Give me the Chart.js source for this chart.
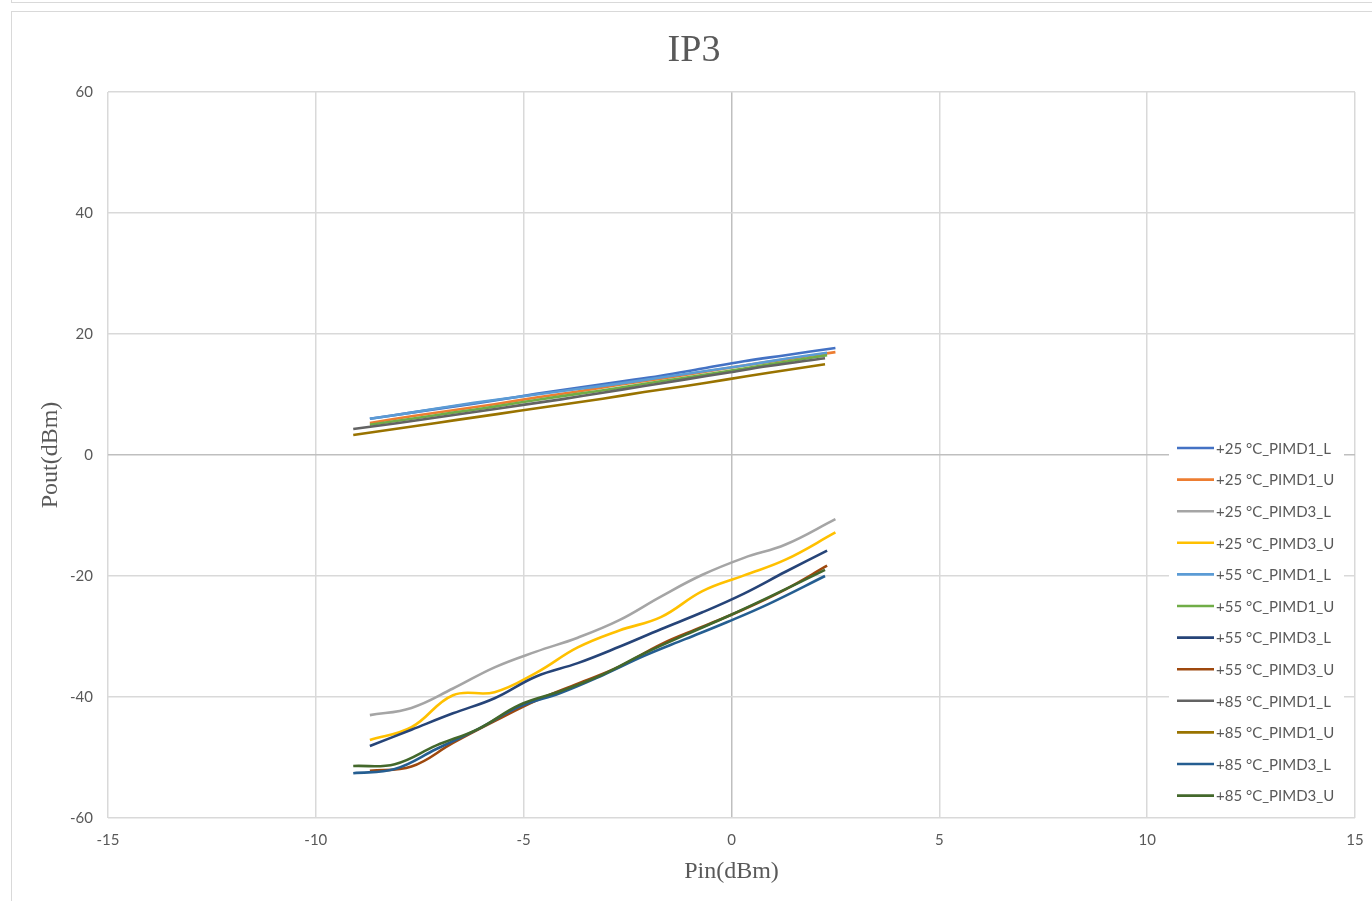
<!DOCTYPE html>
<html>
<head>
<meta charset="utf-8">
<title>IP3</title>
<script src="https://cdn.jsdelivr.net/npm/chart.js@4/dist/chart.umd.min.js"></script>
<style>
  html, body { margin: 0; padding: 0; background: #fff; overflow: hidden; }
  #topBox { position: absolute; left: 11px; top: -20px; width: 1400px; height: 21px; border: 1px solid #d9d9d9; }
  #frame { position: absolute; left: 11px; top: 11px; width: 1400px; height: 950px; border: 1px solid #d9d9d9; }
  #wrap { position: absolute; left: 0; top: 0; width: 1372px; height: 901px; }
</style>
</head>
<body>
<div id="topBox"></div>
<div id="frame"></div>
<div id="wrap"><canvas id="ip3Chart"></canvas></div>
<script>
// Pin (dBm) sweep points for each temperature
const pin25 = [-8.7, -7.7, -6.7, -5.7, -4.7, -3.7, -2.7, -1.7, -0.7, 0.3, 1.3, 2.5];
const pin55 = [-8.7, -7.7, -6.7, -5.7, -4.7, -3.7, -2.7, -1.7, -0.7, 0.3, 1.3, 2.3];
const pin85 = [-9.1, -8.1, -7.1, -6.1, -5.1, -4.1, -3.1, -2.1, -1.1, -0.1, 0.9, 2.25];

// Pout (dBm) readings
const t25_PIMD1_L = [6.0, 7.0, 8.0, 9.0, 10.1, 11.1, 12.1, 13.1, 14.3, 15.5, 16.5, 17.7];
const t25_PIMD1_U = [5.3, 6.4, 7.4, 8.4, 9.5, 10.5, 11.6, 12.6, 13.7, 14.8, 15.8, 17.0];
const t25_PIMD3_L = [-43.0, -41.8, -38.6, -35.1, -32.5, -30.2, -27.3, -23.4, -19.8, -17.0, -14.8, -10.6];
const t25_PIMD3_U = [-47.1, -45.0, -39.7, -39.2, -36.0, -31.8, -29.0, -26.8, -22.5, -19.9, -17.3, -12.8];
const t55_PIMD1_L = [6.0, 7.0, 8.1, 9.1, 10.0, 10.9, 11.8, 12.8, 13.8, 14.8, 15.9, 16.9];
const t55_PIMD1_U = [5.0, 6.0, 7.0, 8.0, 9.1, 10.1, 11.1, 12.2, 13.2, 14.3, 15.4, 16.5];
const t55_PIMD3_L = [-48.1, -45.4, -42.7, -40.2, -36.6, -34.4, -31.7, -28.8, -26.0, -22.9, -19.3, -15.8];
const t55_PIMD3_U = [-52.2, -51.5, -47.6, -44.0, -40.6, -37.8, -35.0, -31.3, -28.4, -25.5, -22.2, -18.3];
const t85_PIMD1_L = [4.3, 5.2, 6.2, 7.2, 8.2, 9.2, 10.3, 11.4, 12.5, 13.6, 14.7, 16.0];
const t85_PIMD1_U = [3.3, 4.3, 5.3, 6.3, 7.3, 8.3, 9.3, 10.4, 11.4, 12.5, 13.6, 15.0];
const t85_PIMD3_L = [-52.6, -51.9, -48.6, -45.3, -41.6, -39.3, -36.4, -33.2, -30.4, -27.6, -24.6, -20.0];
const t85_PIMD3_U = [-51.4, -51.1, -48.0, -45.3, -41.3, -39.0, -36.3, -32.8, -29.7, -26.7, -23.5, -19.0];

const seriesNames = [
  '+25 °C_PIMD1_L', '+25 °C_PIMD1_U', '+25 °C_PIMD3_L', '+25 °C_PIMD3_U',
  '+55 °C_PIMD1_L', '+55 °C_PIMD1_U', '+55 °C_PIMD3_L', '+55 °C_PIMD3_U',
  '+85 °C_PIMD1_L', '+85 °C_PIMD1_U', '+85 °C_PIMD3_L', '+85 °C_PIMD3_U'
];
const seriesPins = [pin25, pin25, pin25, pin25, pin55, pin55, pin55, pin55, pin85, pin85, pin85, pin85];
const seriesValues = [
  t25_PIMD1_L, t25_PIMD1_U, t25_PIMD3_L, t25_PIMD3_U,
  t55_PIMD1_L, t55_PIMD1_U, t55_PIMD3_L, t55_PIMD3_U,
  t85_PIMD1_L, t85_PIMD1_U, t85_PIMD3_L, t85_PIMD3_U
];
const seriesColors = [
  '#4472C4', '#ED7D31', '#A5A5A5', '#FFC000',
  '#5B9BD5', '#70AD47', '#264478', '#9E480E',
  '#636363', '#997300', '#255E91', '#43682B'
];

const xTicks = [-15, -10, -5, 0, 5, 10, 15];
const yTicks = [-60, -40, -20, 0, 20, 40, 60];

const textGrey = '#595959';

const datasets = seriesNames.map((name, i) => ({
  label: name,
  data: seriesPins[i].map((x, j) => ({ x: x, y: seriesValues[i][j] })),
  borderColor: seriesColors[i],
  backgroundColor: seriesColors[i],
  borderWidth: 2.6,
  pointRadius: 0,
  tension: 0.4,
  fill: false,
  order: seriesNames.length - i
}));

// chart title drawn by hand so it sits where Excel puts it
const titlePlugin = {
  id: 'ip3Title',
  afterDraw(chart) {
    const ctx = chart.ctx;
    ctx.save();
    ctx.fillStyle = textGrey;
    ctx.font = '38px "Liberation Serif"';
    ctx.textAlign = 'center';
    ctx.textBaseline = 'alphabetic';
    ctx.fillText('IP3', 694, 61);
    ctx.restore();
  }
};

// legend box overlapping the plot at the right, like the Excel one
const boxLegend = {
  id: 'boxLegend',
  afterDraw(chart) {
    const ctx = chart.ctx;
    const area = chart.chartArea;
    const left = area.right - 186;
    const top = 436;
    const rowH = 31.6;
    ctx.save();
    ctx.fillStyle = '#ffffff';
    ctx.fillRect(left, top, 175, rowH * seriesNames.length - 2);
    ctx.font = '15px Lato';
    ctx.textBaseline = 'middle';
    ctx.textAlign = 'left';
    seriesNames.forEach((name, i) => {
      const y = top + 12 + i * rowH;
      ctx.strokeStyle = seriesColors[i];
      ctx.lineWidth = 2.6;
      ctx.beginPath();
      ctx.moveTo(left + 8, y);
      ctx.lineTo(left + 45, y);
      ctx.stroke();
      ctx.fillStyle = textGrey;
      ctx.fillText(name, left + 47, y + 1);
    });
    ctx.restore();
  }
};

const gridColor = (c) => c.tick && c.tick.value === 0 ? '#bfbfbf' : '#d9d9d9';

new Chart(document.getElementById('ip3Chart'), {
  type: 'line',
  data: { datasets: datasets },
  plugins: [titlePlugin, boxLegend],
  options: {
    responsive: true,
    maintainAspectRatio: false,
    animation: false,
    layout: { padding: { left: 0, top: 92, right: 17, bottom: 0 } },
    plugins: {
      legend: { display: false },
      title: { display: false },
      tooltip: { enabled: false }
    },
    scales: {
      x: {
        type: 'linear',
        min: -15,
        max: 15,
        afterBuildTicks: (s) => { s.ticks = xTicks.map(v => ({ value: v })); },
        afterFit: (s) => { s.height = 83; s.paddingLeft = 0; s.paddingRight = 0; },
        grid: { color: gridColor, lineWidth: 1.5, drawTicks: false },
        border: { display: false },
        ticks: { color: textGrey, font: { family: 'Lato', size: 15 }, padding: 13, maxRotation: 0 },
        title: {
          display: true,
          text: 'Pin(dBm)',
          color: textGrey,
          font: { family: '"Liberation Serif"', size: 24 },
          padding: { top: 0, bottom: 15 }
        }
      },
      y: {
        type: 'linear',
        min: -60,
        max: 60,
        afterBuildTicks: (s) => { s.ticks = yTicks.map(v => ({ value: v })); },
        afterFit: (s) => { s.width = 108; },
        grid: { color: gridColor, lineWidth: 1.5, drawTicks: false },
        border: { display: false },
        ticks: { color: textGrey, font: { family: 'Lato', size: 15 }, padding: 15 },
        title: {
          display: true,
          text: 'Pout(dBm)',
          color: textGrey,
          font: { family: '"Liberation Serif"', size: 24 },
          padding: { top: 36, bottom: 0 }
        }
      }
    }
  }
});
</script>
</body>
</html>
